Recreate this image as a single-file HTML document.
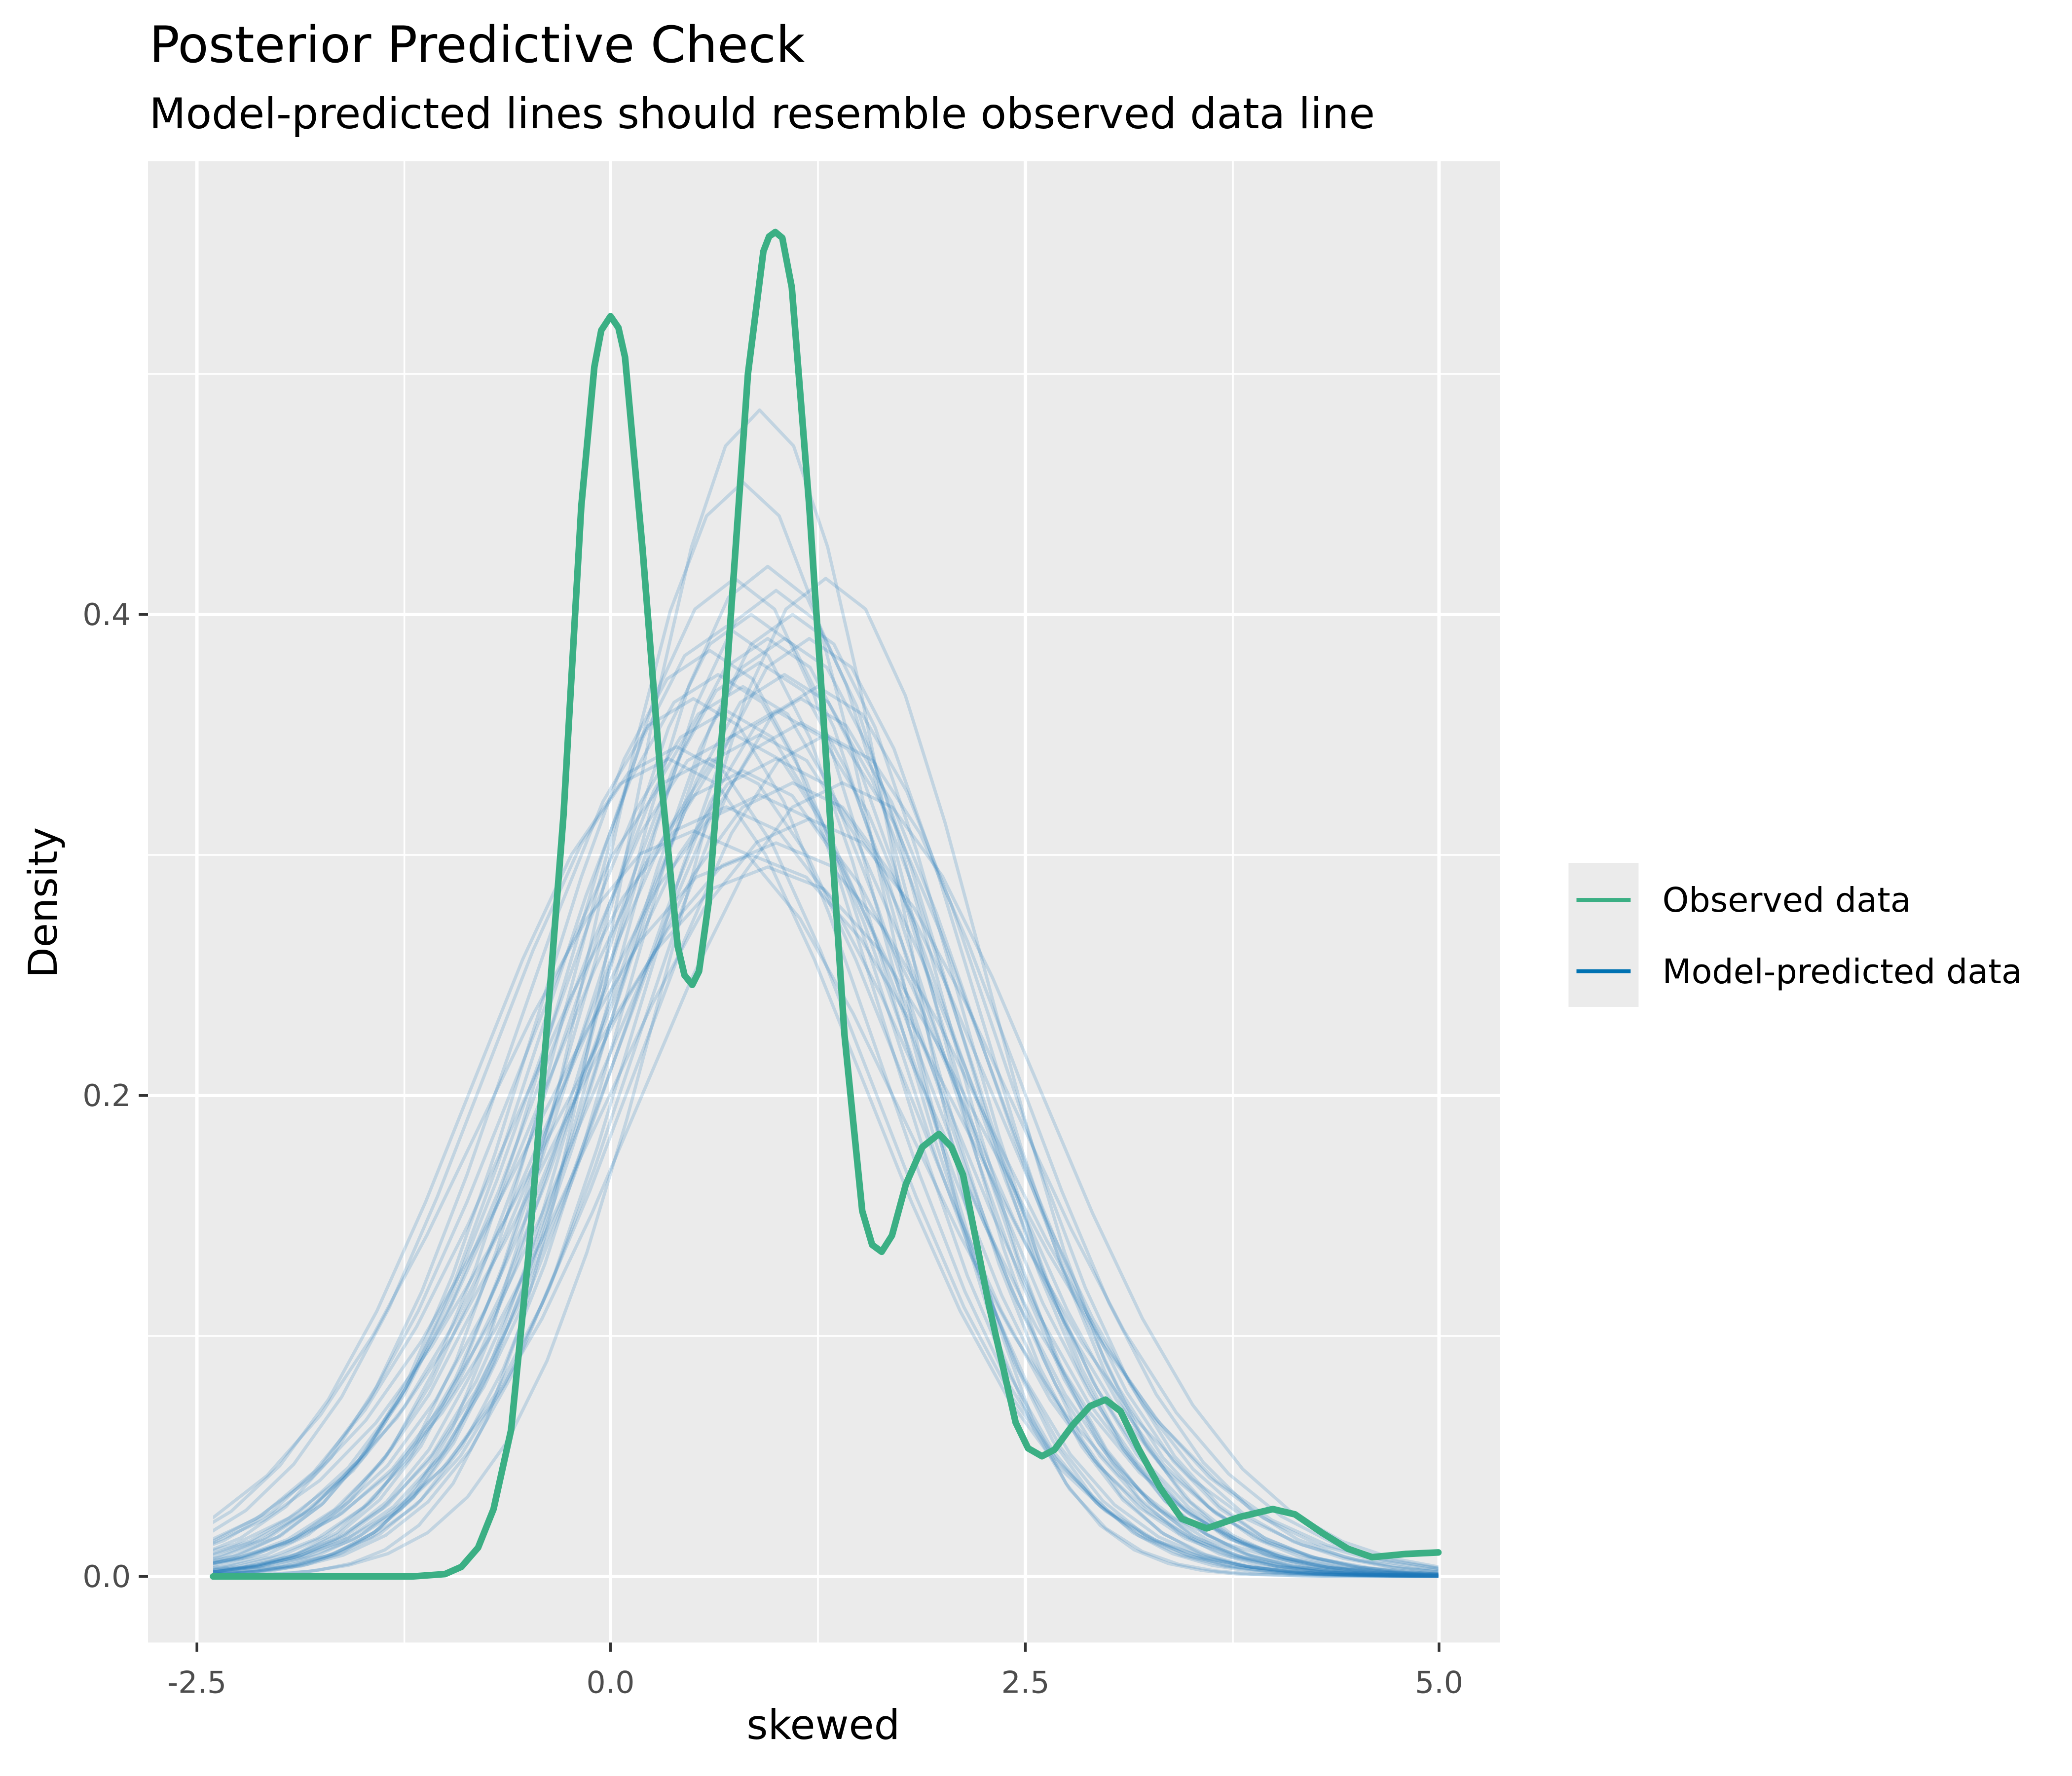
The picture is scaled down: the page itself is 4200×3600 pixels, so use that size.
<!DOCTYPE html>
<html><head><meta charset="utf-8"><style>
html,body{margin:0;padding:0;background:#fff}
svg{display:block}
text{font-family:"DejaVu Sans","Liberation Sans",sans-serif}
</style></head><body>
<svg xmlns="http://www.w3.org/2000/svg" width="4200" height="3600" viewBox="0 0 1568 1344" preserveAspectRatio="none">
<defs>
<clipPath id="cp"><rect x="161.3" y="100" width="927.2" height="1150"/></clipPath>
<polyline id="g" vector-effect="non-scaling-stroke" points="-600,0 -400,0.03 -350,0.22 -325,0.51 -300,1.11 -275,2.28 -250,4.39 -225,7.96 -200,13.53 -175,21.63 -150,32.47 -125,45.78 -100,60.65 -75,75.48 -50,88.25 -25,96.92 0,100 25,96.92 50,88.25 75,75.48 100,60.65 125,45.78 150,32.47 175,21.63 200,13.53 225,7.96 250,4.39 275,2.28 300,1.11 325,0.51 350,0.22 400,0.03 600,0"/>
</defs>
<rect width="1568" height="1344" fill="#fff"/>
<text x="113" y="47" font-size="38" fill="#000">Posterior Predictive Check</text>
<text x="113" y="97" font-size="32" fill="#000">Model-predicted lines should resemble observed data line</text>
<rect x="112" y="122" width="1023" height="1121" fill="#EBEBEB"/>
<g stroke="#fff" stroke-width="1.3">
<line x1="306" y1="122" x2="306" y2="1243"/><line x1="619" y1="122" x2="619" y2="1243"/><line x1="933" y1="122" x2="933" y2="1243"/>
<line x1="112" y1="1011" x2="1135" y2="1011"/><line x1="112" y1="647" x2="1135" y2="647"/><line x1="112" y1="283" x2="1135" y2="283"/>
</g>
<g stroke="#fff" stroke-width="2.6">
<line x1="149" y1="122" x2="149" y2="1243"/><line x1="462" y1="122" x2="462" y2="1243"/><line x1="776" y1="122" x2="776" y2="1243"/><line x1="1089" y1="122" x2="1089" y2="1243"/>
<line x1="112" y1="1193" x2="1135" y2="1193"/><line x1="112" y1="829" x2="1135" y2="829"/><line x1="112" y1="465" x2="1135" y2="465"/>
</g>
<g clip-path="url(#cp)">
<g fill="none" stroke="#1F7AB8" stroke-opacity="0.2" stroke-width="6.5" stroke-linejoin="round">
<use href="#g" transform="translate(574.8,1193) scale(1.031,-8.827)"/>
<use href="#g" transform="translate(562.2,1193) scale(1.099,-8.281)"/>
<use href="#g" transform="translate(581.0,1193) scale(1.190,-7.644)"/>
<use href="#g" transform="translate(556.0,1193) scale(1.205,-7.553)"/>
<use href="#g" transform="translate(624.9,1193) scale(1.205,-7.553)"/>
<use href="#g" transform="translate(587.3,1193) scale(1.220,-7.462)"/>
<use href="#g" transform="translate(568.5,1193) scale(1.25,-7.28)"/>
<use href="#g" transform="translate(599.8,1193) scale(1.25,-7.28)"/>
<use href="#g" transform="translate(549.7,1193) scale(1.266,-7.189)"/>
<use href="#g" transform="translate(581.0,1193) scale(1.282,-7.098)"/>
<use href="#g" transform="translate(612.4,1193) scale(1.282,-7.098)"/>
<use href="#g" transform="translate(537.2,1193) scale(1.299,-7.007)"/>
<use href="#g" transform="translate(574.8,1193) scale(1.316,-6.916)"/>
<use href="#g" transform="translate(593.6,1193) scale(1.333,-6.825)"/>
<use href="#g" transform="translate(562.2,1193) scale(1.351,-6.734)"/>
<use href="#g" transform="translate(618.6,1193) scale(1.351,-6.734)"/>
<use href="#g" transform="translate(524.7,1193) scale(1.370,-6.643)"/>
<use href="#g" transform="translate(587.3,1193) scale(1.389,-6.552)"/>
<use href="#g" transform="translate(549.7,1193) scale(1.389,-6.552)"/>
<use href="#g" transform="translate(606.1,1193) scale(1.408,-6.461)"/>
<use href="#g" transform="translate(574.8,1193) scale(1.429,-6.37)"/>
<use href="#g" transform="translate(512.1,1193) scale(1.449,-6.279)"/>
<use href="#g" transform="translate(624.9,1193) scale(1.429,-6.37)"/>
<use href="#g" transform="translate(537.2,1193) scale(1.471,-6.188)"/>
<use href="#g" transform="translate(587.3,1193) scale(1.471,-6.188)"/>
<use href="#g" transform="translate(562.2,1193) scale(1.493,-6.097)"/>
<use href="#g" transform="translate(599.8,1193) scale(1.515,-6.006)"/>
<use href="#g" transform="translate(505.9,1193) scale(1.471,-6.188)"/>
<use href="#g" transform="translate(637.4,1193) scale(1.515,-6.006)"/>
<use href="#g" transform="translate(574.8,1193) scale(1.538,-5.915)"/>
<use href="#g" transform="translate(549.7,1193) scale(1.5625,-5.824)"/>
<use href="#g" transform="translate(612.4,1193) scale(1.587,-5.733)"/>
<use href="#g" transform="translate(524.7,1193) scale(1.613,-5.642)"/>
<use href="#g" transform="translate(587.3,1193) scale(1.639,-5.551)"/>
<use href="#g" transform="translate(568.5,1193) scale(1.667,-5.46)"/>
<use href="#g" transform="translate(581.0,1193) scale(1.695,-5.369)"/>
<use href="#g" transform="translate(556.0,1193) scale(1.429,-6.37)"/>
<use href="#g" transform="translate(593.6,1193) scale(1.282,-7.098)"/>
<use href="#g" transform="translate(543.4,1193) scale(1.333,-6.825)"/>
<use href="#g" transform="translate(606.1,1193) scale(1.370,-6.643)"/>
</g>
</g>
<polyline fill="none" stroke="#3BAF84" stroke-width="5" stroke-linejoin="round" stroke-linecap="round" points="161.3,1193 311.6,1193 336.7,1191.2 349.2,1185.7 361.8,1171.2 373.5,1142.0 386.8,1082.0 400.0,949.1 413.4,783.5 426.5,616.1 439.9,383.1 449.8,277.5 455,250 462,239.3 468,248 473.0,270.3 486.3,415.9 499.6,583.3 512.9,716.2 518,738 523.9,745.3 529,735 536.2,683.4 549.5,516.0 566.0,283.0 577.7,190.2 582,179 586.7,175.6 592,180 599.2,217.5 612.4,383.1 625.8,583.3 639.1,783.5 652.5,916.4 660,942 667.2,947.3 675,935 685.5,896.3 698,868 710.5,858.1 720,868 728.8,889.1 748.7,989.2 768.6,1076.5 778,1096 788.5,1102.0 798,1097 811.8,1078.3 825,1064 836.6,1059.2 848,1068 861.7,1096.5 878,1126 894.3,1149.3 913.1,1156.6 938.1,1148 963.2,1142.0 980,1146 1000.8,1160.2 1020,1172 1038.4,1178.4 1063.4,1176 1088.5,1174.8"/>
<g stroke="#333" stroke-width="2">
<line x1="105" y1="1193" x2="112" y2="1193"/><line x1="105" y1="829" x2="112" y2="829"/><line x1="105" y1="465" x2="112" y2="465"/>
<line x1="149" y1="1243" x2="149" y2="1250"/><line x1="462" y1="1243" x2="462" y2="1250"/><line x1="776" y1="1243" x2="776" y2="1250"/><line x1="1089" y1="1243" x2="1089" y2="1250"/>
</g>
<g font-size="23" fill="#4D4D4D">
<text x="99" y="1201" text-anchor="end">0.0</text><text x="99" y="837" text-anchor="end">0.2</text><text x="99" y="473" text-anchor="end">0.4</text>
<text x="149" y="1281" text-anchor="middle">-2.5</text><text x="462" y="1281" text-anchor="middle">0.0</text><text x="776" y="1281" text-anchor="middle">2.5</text><text x="1089" y="1281" text-anchor="middle">5.0</text>
</g>
<text x="623" y="1316" font-size="31" text-anchor="middle">skewed</text>
<text transform="translate(43,683) rotate(-90)" font-size="30" text-anchor="middle">Density</text>
<rect x="1187" y="653" width="53" height="109" fill="#EBEBEB"/>
<line x1="1193" y1="681" x2="1234" y2="681" stroke="#3BAF84" stroke-width="3"/>
<line x1="1193" y1="735" x2="1234" y2="735" stroke="#0072B2" stroke-width="3"/>
<text x="1258" y="690" font-size="25.5">Observed data</text>
<text x="1258" y="744" font-size="25.5">Model-predicted data</text>
</svg>
</body></html>
